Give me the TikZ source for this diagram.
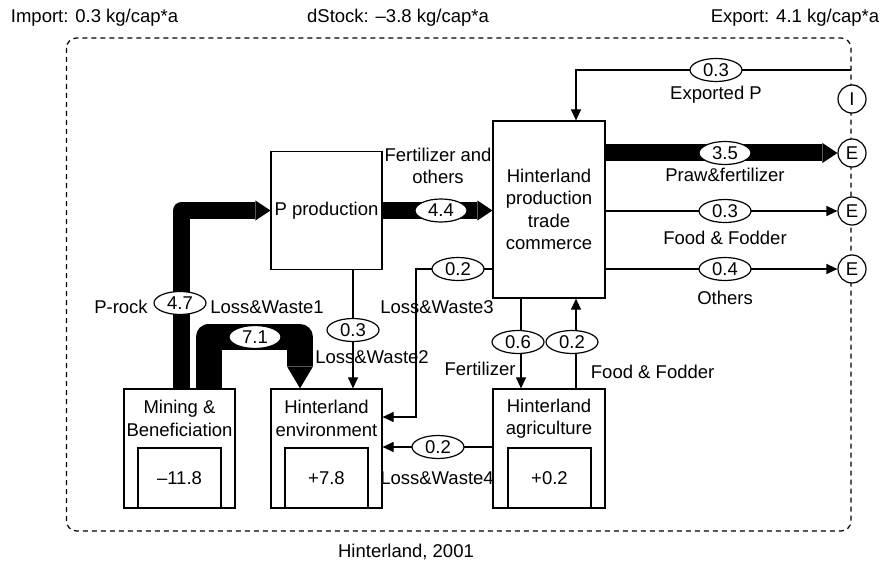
\documentclass[tikz,border=0pt]{standalone}
\usepackage{fontspec}
\setmainfont{Liberation Sans}
\usetikzlibrary{arrows.meta,shapes.geometric}

\begin{document}
\begin{tikzpicture}[x=1pt,y=-1pt,
  font=\fontsize{18.5}{22.5}\selectfont,
  line width=1.2pt,
  box/.style={draw,inner sep=0pt},
  flow/.style={ellipse,draw,fill=white,inner sep=0pt,minimum width=52pt,minimum height=23pt},
  io/.style={circle,draw,fill=white,inner sep=0pt,minimum size=28pt},
  arr/.style={-{Triangle[length=11pt,width=10pt]}},
  fat/.style={line width=17pt,line join=round,-{Triangle[length=15pt,width=20pt,line width=0pt]}},
  fatter/.style={line width=26pt,line join=round,-{Triangle[length=22pt,width=26pt,line width=0pt]}}]

   \useasboundingbox (0,0) rectangle (890,564);

   \node[anchor=base west] (imp) at (7,23) {Import: 0.3 kg/cap*a};
   \node[anchor=base] (dst) at (398,23) {dStock: --3.8 kg/cap*a};
   \node[anchor=base east] (exp) at (883,23) {Export: 4.1 kg/cap*a};
   \node[anchor=base] (hint) at (406,557) {Hinterland, 2001};

   \draw[dash pattern=on 5pt off 4pt,rounded corners=10pt] (66.5,38) rectangle (851,531);

   \node[box,minimum width=111pt,minimum height=118pt] (pprod) at (326.5,210.5) {P production};
   \node[box,minimum width=112pt,minimum height=177pt,align=center] (hptc) at (549,209.5) {Hinterland\\production\\trade\\commerce};
   \node[box,minimum width=111pt,minimum height=119pt] (mine) at (179.5,448.5) {};
   \node[box,minimum width=111pt,minimum height=119pt] (env) at (326.5,448.5) {};
   \node[box,minimum width=112pt,minimum height=119pt] (agri) at (549,448.5) {};
   \node[align=center] (minet) at (179.5,418.5) {Mining \&\\Beneficiation};
   \node[align=center] (envt) at (326.5,418.5) {Hinterland\\environment};
   \node[align=center] (agrit) at (549,418.5) {Hinterland\\agriculture};
   \node[box,minimum width=83pt,minimum height=60pt] (mines) at (179.5,478) {--11.8};
   \node[box,minimum width=83pt,minimum height=60pt] (envs) at (326.5,478) {+7.8};
   \node[box,minimum width=83pt,minimum height=60pt] (agris) at (549.5,478) {+0.2};

   \node[io] (i1) at (852,99) {I};
   \node[io] (e1) at (852,153) {E};
   \node[io] (e2) at (852,211) {E};
   \node[io] (e3) at (852,269) {E};

   \coordinate (ex) at (851,70);
   \coordinate (fo) at (576,342);
   \coordinate (fe) at (521,342);
   \coordinate (pr) at (181.5,303);
   \coordinate (w1) at (208.5,337);
   \coordinate (w1e) at (300,337);
   \coordinate (w2) at (353,330);
   \coordinate (w3) at (416,269);
   \coordinate (w3b) at (416,417);
   \coordinate (w4) at (438,447);

   \draw[arr] (ex) -| (hptc.north -| fo);
   \draw[fat] (hptc.east |- e1) -- (e1.west);
   \draw[arr] (hptc.east |- e2) -- (e2.west);
   \draw[arr] (hptc.east |- e3) -- (e3.west);
   \draw[fat] (pprod.east) -- (pprod.east -| hptc.west);
   \draw[fat] (mine.north -| pr) |- (pprod.west);
   \draw[fatter] (mine.north -| w1) -- (w1) -- (w1e) -- (env.north -| w1e);
   \draw[arr] (pprod.south -| w2) -- (env.north -| w2);
   \draw[arr] (hptc.west |- w3) -- (w3) -- (w3b) -- (env.east |- w3b);
   \draw[arr] (agri.west |- w4) -- (env.east |- w4);
   \draw[arr] (hptc.south -| fe) -- (agri.north -| fe);
   \draw[arr] (agri.north -| fo) -- (hptc.south -| fo);

   \node[flow] (f1) at (716,70) {0.3};
   \node[flow] (f2) at (725,153) {3.5};
   \node[flow] (f3) at (725,211) {0.3};
   \node[flow] (f4) at (725,269) {0.4};
   \node[flow] (f5) at (441,210.5) {4.4};
   \node[flow] (f6) at (458,269) {0.2};
   \node[flow] (f7) at (180,303) {4.7};
   \node[flow] (f8) at (255,337) {7.1};
   \node[flow] (f9) at (353,330) {0.3};
   \node[flow] (f10) at (438,447) {0.2};
   \node[flow] (f11) at (518,342) {0.6};
   \node[flow] (f12) at (572,342) {0.2};

   \node (l1) at (716,95) {Exported P};
   \node (l2) at (725,175) {Praw\&fertilizer};
   \node (l3) at (725,238) {Food \& Fodder};
   \node (l4) at (725,298) {Others};
   \node[align=center] (l5) at (438,166) {Fertilizer and\\others};
   \node (l6) at (121,307) {P-rock};
   \node (l7) at (267,307) {Loss\&Waste1};
   \node (l8) at (372,357) {Loss\&Waste2};
   \node (l9) at (437,307) {Loss\&Waste3};
   \node (l10) at (437,478) {Loss\&Waste4};
   \node (l11) at (480,369) {Fertilizer};
   \node[anchor=west] (l12) at (587,372) {Food \& Fodder};
\end{tikzpicture}
\end{document}
